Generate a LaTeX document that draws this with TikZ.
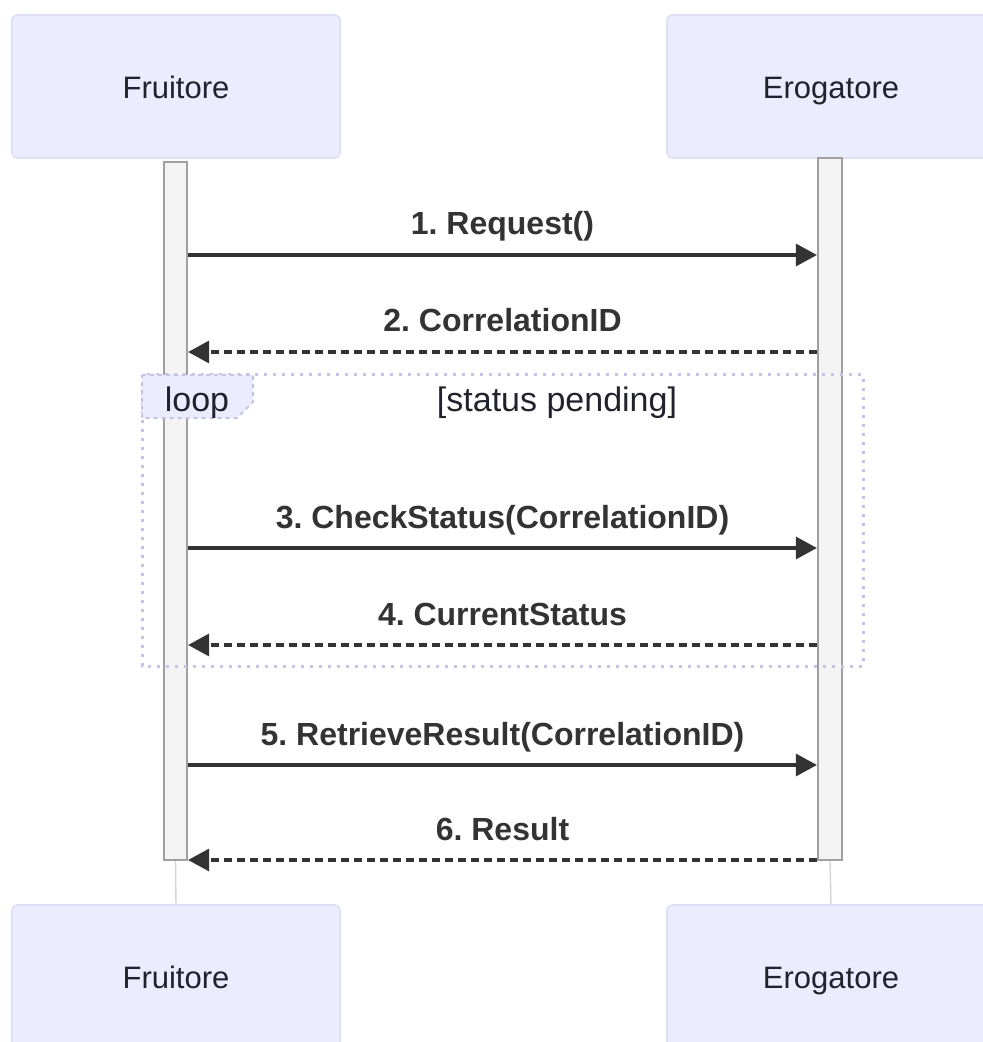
\documentclass[tikz,border=0pt]{standalone}
\usepackage{fontspec}
\setmainfont{Liberation Sans}
\frenchspacing
\usetikzlibrary{arrows.meta}
\definecolor{actorfill}{RGB}{236,236,255}
\definecolor{actorline}{RGB}{222,222,244}
\definecolor{actortext}{RGB}{34,34,44}
\definecolor{barfill}{RGB}{244,244,244}
\definecolor{barline}{RGB}{160,160,160}
\definecolor{lifeline}{RGB}{212,212,212}
\definecolor{msgline}{RGB}{51,51,51}
\definecolor{loopline}{RGB}{196,196,228}
\begin{document}
\begin{tikzpicture}[x=0.5pt, y=-0.5pt,
	actor/.style={draw=actorline, fill=actorfill, line width=0.8pt, rounded corners=2.5pt, minimum width=164pt, minimum height=71.5pt, inner sep=0pt, text height=12pt, text depth=0pt, text=actortext, font=\fontsize{15.5}{18}\selectfont},
	actbar/.style={draw=barline, fill=barfill, line width=1.1pt, minimum width=11.5pt, inner sep=0pt},
	life/.style={draw=lifeline, line width=0.7pt},
	msg/.style={draw=msgline, line width=1.6pt, -{Triangle[length=10.5pt, width=11pt]}},
	reply/.style={msg, dash pattern=on 4pt off 2.5pt},
	msglabel/.style={anchor=base, yshift=10pt, text=msgline, font=\fontsize{16}{19}\selectfont\bfseries},
	loopframe/.style={draw=loopline, line width=1.5pt, dash pattern=on 1.5pt off 3pt},
	looptab/.style={draw=loopline, fill=actorfill, line width=1pt, dash pattern=on 2pt off 2pt},
	looptext/.style={anchor=base, text=actortext, font=\fontsize{17}{20}\selectfont}
]
	\useasboundingbox (0,0) rectangle (982,1042);
	\node[actor] (ftop) at (176,86.5) {Fruitore};
	\node[actor] (etop) at (831,86.5) {Erogatore};
	\node[actor] (fbot) at (176,976.5) {Fruitore};
	\node[actor] (ebot) at (831,976.5) {Erogatore};
	\node[actbar, minimum height=349pt] (fbar) at (175.5,511) {};
	\node[actbar, minimum height=351pt, minimum width=12pt] (ebar) at (830,509) {};
	\draw[life] (fbar.south) -- (fbot.north);
	\draw[life] (ebar.south) -- (ebot.north);
	\draw[loopframe] (142,375) rectangle (863,666);
	\draw[looptab] (142,375) -- (253,375) -- (253,402) -- (237,418) -- (142,418) -- cycle;
	\node[looptext] (looplabel) at (197,411) {loop};
	\node[looptext] (loopcond) at (557,411) {[status pending]};
	\coordinate (row1) at (0,255);
	\coordinate (row2) at (0,352);
	\coordinate (row3) at (0,548);
	\coordinate (row4) at (0,645);
	\coordinate (row5) at (0,765);
	\coordinate (row6) at (0,860);
	\draw[msg] (fbar.east |- row1) -- node[msglabel] {1. Request()} (ebar.west |- row1);
	\draw[reply] (ebar.west |- row2) -- node[msglabel] {2. CorrelationID} (fbar.east |- row2);
	\draw[msg] (fbar.east |- row3) -- node[msglabel] {3. CheckStatus(CorrelationID)} (ebar.west |- row3);
	\draw[reply] (ebar.west |- row4) -- node[msglabel] {4. CurrentStatus} (fbar.east |- row4);
	\draw[msg] (fbar.east |- row5) -- node[msglabel] {5. RetrieveResult(CorrelationID)} (ebar.west |- row5);
	\draw[reply] (ebar.west |- row6) -- node[msglabel] {6. Result} (fbar.east |- row6);
\end{tikzpicture}
\end{document}
